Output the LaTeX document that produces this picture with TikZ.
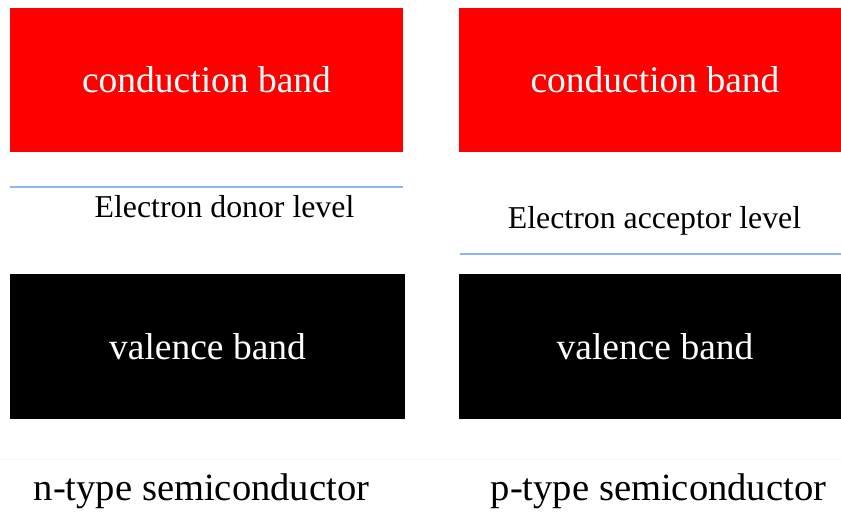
\documentclass[tikz,border=0pt]{standalone}
\usepackage{fontspec}
\setmainfont{Liberation Serif}
\definecolor{levelblue}{RGB}{140,180,240}
\definecolor{bandred}{RGB}{255,0,0}
\begin{document}
\begin{tikzpicture}[x=1pt,y=-1pt,
  band/.style={inner sep=0pt, outer sep=0pt, text=white,
    font=\fontsize{37.5}{40}\selectfont},
  levellabel/.style={inner sep=0pt, font=\fontsize{31.8}{34}\selectfont},
  caption/.style={inner sep=0pt, font=\fontsize{38.6}{42}\selectfont},
  level/.style={draw=levelblue, line width=1.5pt}]
\useasboundingbox (0,0) rectangle (841,513);
\fill[white] (0,0) rectangle (841,513);

% n-type column
\node[band, fill=bandred, minimum width=393pt, minimum height=144pt] (cbn) at (206.5,80) {conduction band};
\coordinate (dl) at (10,187);
\coordinate (dr) at (403,187);
\draw[level] (dl) -- (dr);
\node[levellabel] (dtxt) at (224.5,207) {Electron donor level};
\node[band, fill=black, minimum width=395pt, minimum height=145pt] (vbn) at (207.5,346.5) {valence band};
\node[caption] (ncap) at (201.5,491) {n-type semiconductor};

% p-type column (bands run past the right edge)
\node[band, fill=bandred, minimum width=392pt, minimum height=144pt] (cbp) at (655,80) {conduction band};
\node[levellabel] (atxt) at (654.5,221) {Electron acceptor level};
\coordinate (al) at (460,254);
\coordinate (ar) at (841,254);
\draw[level] (al) -- (ar);
\node[band, fill=black, minimum width=392pt, minimum height=145pt] (vbp) at (655,346.5) {valence band};
\node[caption] (pcap) at (658.5,491) {p-type semiconductor};

% faint rule above the captions
\coordinate (rl) at (0,459);
\coordinate (rr) at (841,459);
\draw[black!4, line width=0.8pt] (rl) -- (rr);
\end{tikzpicture}
\end{document}
